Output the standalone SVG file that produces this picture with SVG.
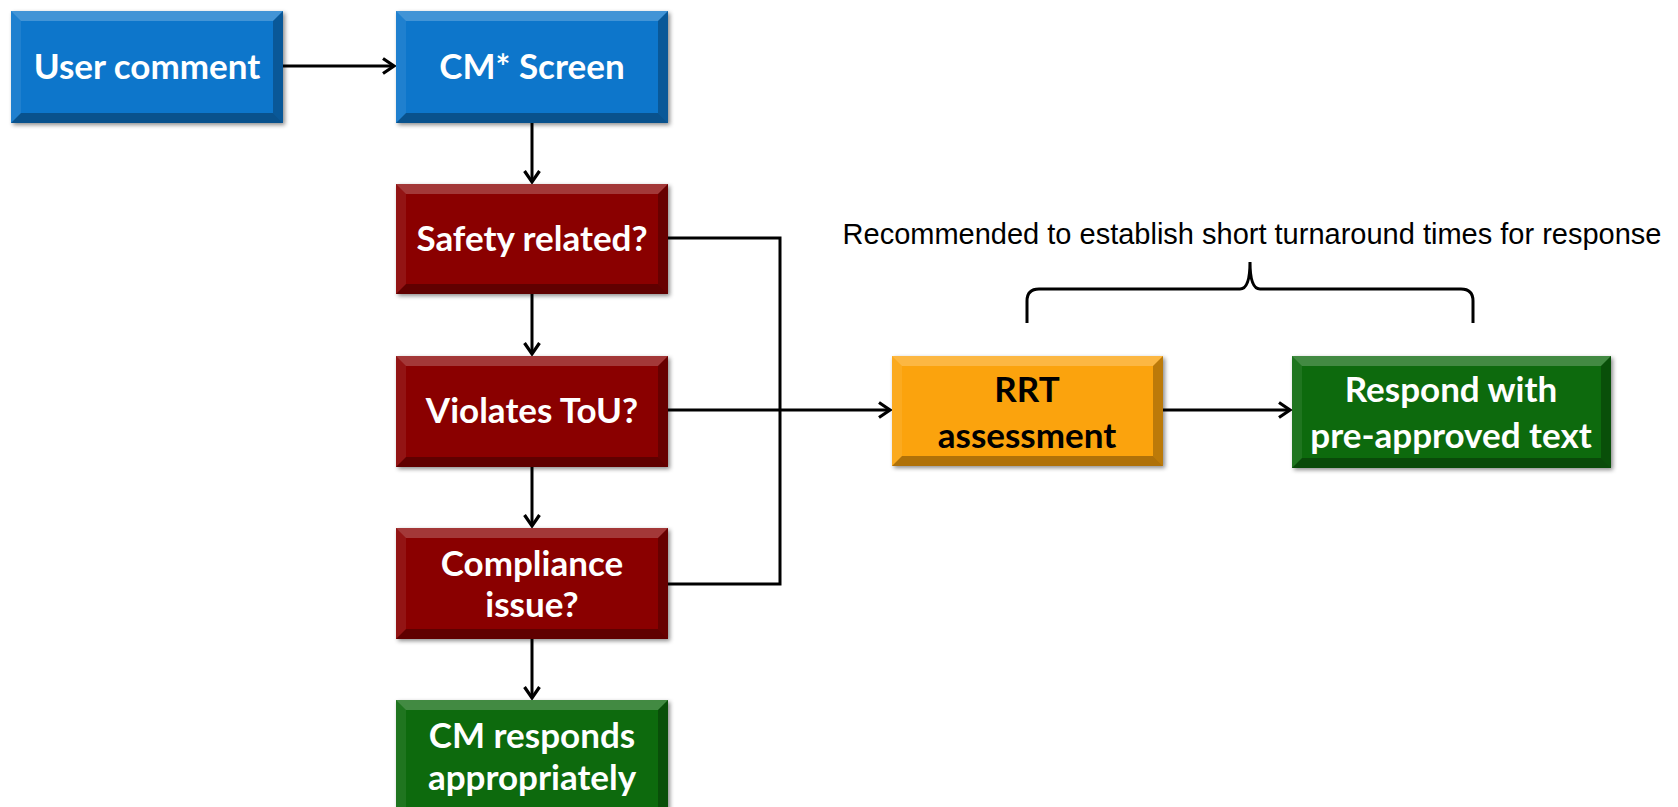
<svg xmlns="http://www.w3.org/2000/svg" width="1678" height="807" viewBox="0 0 1678 807">
<defs>
<marker id="arr" markerWidth="18" markerHeight="18" refX="14" refY="9" orient="auto" markerUnits="userSpaceOnUse">
<path d="M3,1.5 L14,9 L3,16.5" fill="none" stroke="#000" stroke-width="3.2"/>
</marker>
<filter id="sh" x="-10%" y="-10%" width="130%" height="130%">
<feDropShadow dx="2" dy="2" stdDeviation="2" flood-color="#000" flood-opacity="0.45"/>
</filter>
</defs>
<style>
.blue{fill:#0876CB}
.red{fill:#8A0606}
.green{fill:#076A08}
.orange{fill:#FBA30A}
.bt{fill:#fff;fill-opacity:0.22}
.bb{fill:#000;fill-opacity:0.3}
.bl{fill:#fff;fill-opacity:0.08}
.br{fill:#000;fill-opacity:0.25}
.lbl{font-family:Lato,"Open Sans",sans-serif;font-weight:bold;font-size:35px;fill:#fff;text-anchor:middle}
.dark{fill:#000}
.note{font-family:"Liberation Sans",Arial,sans-serif;font-size:29px;fill:#000;text-anchor:middle}
.con{fill:none;stroke:#000;stroke-width:3}
</style>

<g id="connectors">
<line class="con" x1="283" y1="66" x2="394" y2="66" marker-end="url(#arr)"/>
<line class="con" x1="532" y1="123" x2="532" y2="182" marker-end="url(#arr)"/>
<line class="con" x1="532" y1="294" x2="532" y2="354" marker-end="url(#arr)"/>
<line class="con" x1="532" y1="467" x2="532" y2="526" marker-end="url(#arr)"/>
<line class="con" x1="532" y1="639" x2="532" y2="698" marker-end="url(#arr)"/>
<polyline class="con" points="668,238 780,238 780,584 668,584"/>
<line class="con" x1="668" y1="410" x2="890" y2="410" marker-end="url(#arr)"/>
<line class="con" x1="1163" y1="410" x2="1290" y2="410" marker-end="url(#arr)"/>
</g>

<g id="user-comment">
<rect class="blue" x="11" y="11" width="272" height="112" filter="url(#sh)"/>
<polygon class="bt" points="11,11 283,11 273,21 21,21"/>
<polygon class="bb" points="11,123 283,123 273,113 21,113"/>
<polygon class="bl" points="11,11 21,21 21,113 11,123"/>
<polygon class="br" points="283,11 273,21 273,113 283,123"/>
<text class="lbl" x="147" y="79">User comment</text>
</g>

<g id="cm-screen">
<rect class="blue" x="396" y="11" width="272" height="112" filter="url(#sh)"/>
<polygon class="bt" points="396,11 668,11 658,21 406,21"/>
<polygon class="bb" points="396,123 668,123 658,113 406,113"/>
<polygon class="bl" points="396,11 406,21 406,113 396,123"/>
<polygon class="br" points="668,11 658,21 658,113 668,123"/>
<text class="lbl" x="532" y="79">CM* Screen</text>
</g>

<g id="safety">
<rect class="red" x="396" y="184" width="272" height="110" filter="url(#sh)"/>
<polygon class="bt" points="396,184 668,184 658,194 406,194"/>
<polygon class="bb" points="396,294 668,294 658,284 406,284"/>
<polygon class="bl" points="396,184 406,194 406,284 396,294"/>
<polygon class="br" points="668,184 658,194 658,284 668,294"/>
<text class="lbl" x="532" y="251">Safety related?</text>
</g>

<g id="violates">
<rect class="red" x="396" y="356" width="272" height="111" filter="url(#sh)"/>
<polygon class="bt" points="396,356 668,356 658,366 406,366"/>
<polygon class="bb" points="396,467 668,467 658,457 406,457"/>
<polygon class="bl" points="396,356 406,366 406,457 396,467"/>
<polygon class="br" points="668,356 658,366 658,457 668,467"/>
<text class="lbl" x="532" y="423">Violates ToU?</text>
</g>

<g id="compliance">
<rect class="red" x="396" y="528" width="272" height="111" filter="url(#sh)"/>
<polygon class="bt" points="396,528 668,528 658,538 406,538"/>
<polygon class="bb" points="396,639 668,639 658,629 406,629"/>
<polygon class="bl" points="396,528 406,538 406,629 396,639"/>
<polygon class="br" points="668,528 658,538 658,629 668,639"/>
<text class="lbl" x="532" y="576">Compliance</text>
<text class="lbl" x="532" y="617">issue?</text>
</g>

<g id="cm-responds">
<rect class="green" x="396" y="700" width="272" height="110" filter="url(#sh)"/>
<polygon class="bt" points="396,700 668,700 658,710 406,710"/>
<polygon class="bl" points="396,700 406,710 406,810 396,810"/>
<polygon class="br" points="668,700 658,710 658,810 668,810"/>
<text class="lbl" x="532" y="748">CM responds</text>
<text class="lbl" x="532" y="790">appropriately</text>
</g>

<g id="rrt">
<rect class="orange" x="892" y="356" width="271" height="110" filter="url(#sh)"/>
<polygon class="bt" points="892,356 1163,356 1153,366 902,366"/>
<polygon class="bb" points="892,466 1163,466 1153,456 902,456"/>
<polygon class="bl" points="892,356 902,366 902,456 892,466"/>
<polygon class="br" points="1163,356 1153,366 1153,456 1163,466"/>
<text class="lbl dark" x="1027" y="402">RRT</text>
<text class="lbl dark" x="1027" y="448">assessment</text>
</g>

<g id="respond">
<rect class="green" x="1292" y="356" width="319" height="112" filter="url(#sh)"/>
<polygon class="bt" points="1292,356 1611,356 1601,366 1302,366"/>
<polygon class="bb" points="1292,468 1611,468 1601,458 1302,458"/>
<polygon class="bl" points="1292,356 1302,366 1302,458 1292,468"/>
<polygon class="br" points="1611,356 1601,366 1601,458 1611,468"/>
<text class="lbl" x="1451" y="402">Respond with</text>
<text class="lbl" x="1451" y="448">pre-approved text</text>
</g>

<g id="note">
<text class="note" x="1252" y="244">Recommended to establish short turnaround times for response</text>
<path class="con" d="M1027,323 L1027,301 Q1027,289 1039,289 L1240,289 Q1250,289 1250,262 Q1250,289 1260,289 L1461,289 Q1473,289 1473,301 L1473,323"/>
</g>
</svg>
